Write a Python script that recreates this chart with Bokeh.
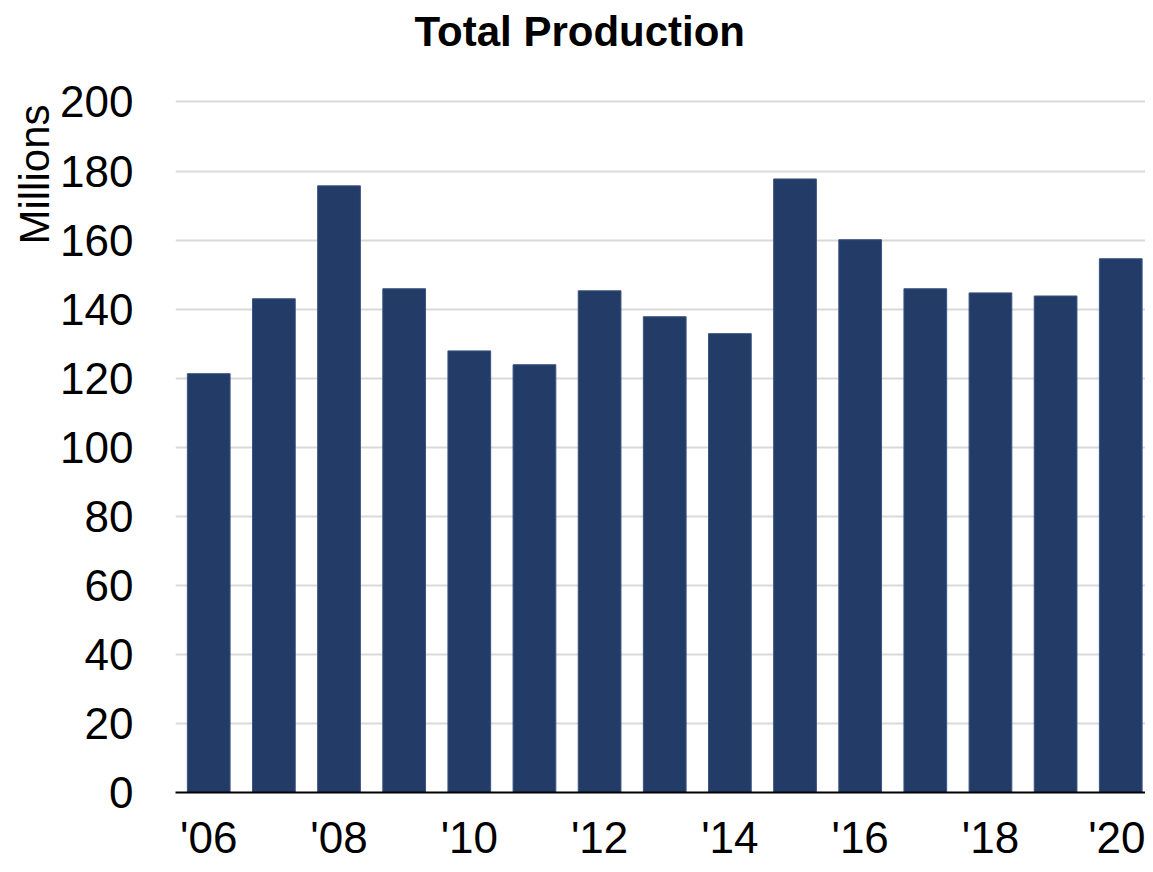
from bokeh.plotting import figure
from bokeh.models import FixedTicker, Range1d, Title, ColumnDataSource
from bokeh.embed import file_html
from bokeh.resources import INLINE

years = list(range(2006, 2021))
production = [121.3, 143.0, 175.7, 145.9, 127.9, 123.9, 145.3, 137.8, 132.9,
              177.7, 160.1, 145.9, 144.7, 143.8, 154.6]
tick_years = [2006, 2008, 2010, 2012, 2014, 2016, 2018, 2020]
tick_labels = ["'06", "'08", "'10", "'12", "'14", "'16", "'18", "'20"]
y_ticks = list(range(0, 201, 20))

FONT = "Liberation Sans"

p = figure(width=1145, height=864, output_backend="svg", toolbar_location=None,
           x_range=Range1d(2005.49, 2020.38), y_range=Range1d(0, 201),
           min_border_left=175, min_border_right=0, min_border_bottom=72,
           min_border_top=97)

src = ColumnDataSource(dict(x=years, top=production))
p.vbar(x="x", top="top", width=0.656, bottom=0, source=src,
       fill_color="#233C67", line_color="#3B5480", line_width=1)

p.title.text = "Total Production"
p.title.align = "left"
p.title.text_font = FONT
p.title.text_font_style = "bold"
p.title.text_font_size = "42px"
p.title.text_color = "#000000"
p.title.standoff = 10
p.title.offset = 239

# spacer between the title and the plot area
spacer = Title(text=" ", text_font=FONT, text_font_size="24px", standoff=10)
p.add_layout(spacer, "above")

p.outline_line_color = None
p.background_fill_color = "white"
p.border_fill_color = "white"

# x axis
p.xaxis.ticker = FixedTicker(ticks=tick_years)
p.xaxis.major_label_overrides = {y: l for y, l in zip(tick_years, tick_labels)}
p.xaxis.major_tick_line_color = None
p.xaxis.minor_tick_line_color = None
p.xaxis.axis_line_color = "black"
p.xaxis.axis_line_width = 2
p.xaxis.major_label_text_font = FONT
p.xaxis.major_label_text_font_size = "44px"
p.xaxis.major_label_text_color = "black"
p.xaxis.major_label_standoff = 14

# y axis
p.yaxis.ticker = FixedTicker(ticks=y_ticks)
p.yaxis.major_tick_line_color = None
p.yaxis.minor_tick_line_color = None
p.yaxis.axis_line_color = None
p.yaxis.major_label_text_font = FONT
p.yaxis.major_label_text_font_size = "44px"
p.yaxis.major_label_text_color = "black"
p.yaxis.major_label_standoff = 36

p.xgrid.grid_line_color = None
p.ygrid.grid_line_color = "#d9d9d9"
p.ygrid.grid_line_width = 2

ylab = Title(text="Millions", align="right", text_font=FONT,
             text_font_size="42px", text_font_style="normal",
             text_color="black", standoff=0, offset=6)
p.add_layout(ylab, "left")

open("out.html", "w").write(file_html(p, INLINE))
